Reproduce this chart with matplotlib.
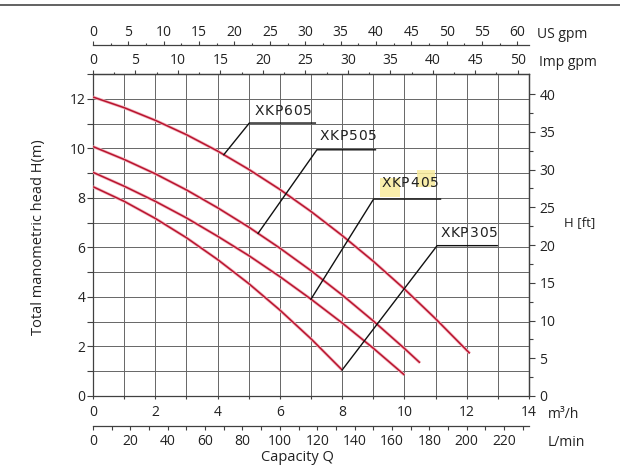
import matplotlib
matplotlib.use('Agg')
import matplotlib.pyplot as plt
import numpy as np
from matplotlib.lines import Line2D
from matplotlib.patches import Rectangle
from matplotlib.ticker import MultipleLocator, FixedLocator

plt.rcParams['font.family'] = ['Open Sans', 'DejaVu Sans']

# ── Data: pump curves, Q in m3/h, H in m ──────────
q605 = [0, 1, 2, 3, 4, 5, 6, 7, 8, 9, 10, 11, 12.1]
h605 = [12.07, 11.64, 11.13, 10.55, 9.89, 9.15, 8.34, 7.45, 6.48, 5.44, 4.32, 3.12, 1.72]

q505 = [0, 1, 2, 3, 4, 5, 6, 7, 8, 9, 10, 10.5]
h505 = [10.07, 9.55, 8.97, 8.32, 7.60, 6.82, 5.97, 5.06, 4.08, 3.03, 1.92, 1.34]

q405 = [0, 1, 2, 3, 4, 5, 6, 7, 8, 9, 10]
h405 = [9.03, 8.47, 7.86, 7.19, 6.45, 5.67, 4.82, 3.91, 2.95, 1.93, 0.85]

q305 = [0, 1, 2, 3, 4, 5, 6, 7, 8]
h305 = [8.45, 7.86, 7.17, 6.39, 5.51, 4.54, 3.47, 2.31, 1.05]

models = ['XKP605', 'XKP505', 'XKP405', 'XKP305']

# unit conversions
US_GPM = 0.227125   # m3/h
IMP_GPM = 0.272765  # m3/h
LPM = 0.06          # m3/h
FT = 0.3048         # m

RED = '#b8152f'
GRID = '#666666'
SPINE = '#404040'
TXT = '#222222'

fig = plt.figure(figsize=(6.2, 4.75), dpi=100)
ax = fig.add_axes([0.15, 0.16632, 0.7032, 0.6779])

# ── Curves ────────────────────────────────────────
for q, h in [(q605, h605), (q505, h505), (q405, h405), (q305, h305)]:
    ax.plot(q, h, color='#f4b3bd', lw=2.2, solid_capstyle='butt', zorder=3,
            solid_joinstyle='round')
    ax.plot(q, h, color=RED, lw=1.1, solid_capstyle='butt', zorder=4,
            solid_joinstyle='round')

# ── Axes / grid ───────────────────────────────────
ax.set_xlim(0, 14)
ax.set_ylim(0, 13)
ax.xaxis.set_major_locator(MultipleLocator(2))
ax.xaxis.set_minor_locator(MultipleLocator(1))
ax.yaxis.set_major_locator(MultipleLocator(2))
ax.yaxis.set_minor_locator(MultipleLocator(1))
ax.grid(which='both', color=GRID, lw=0.7)
ax.set_axisbelow(True)
for s in ax.spines.values():
    s.set_color(SPINE)
    s.set_linewidth(0.9)
ax.tick_params(axis='x', which='both', direction='out', length=2.5, width=0.8,
               color=SPINE, labelsize=10, labelcolor=TXT, pad=4)
ax.tick_params(axis='y', which='both', direction='out', length=4, width=0.8,
               color=SPINE, labelsize=10, labelcolor=TXT, pad=1.5)

# Imp gpm on top spine
imp = ax.secondary_xaxis('top', functions=(lambda x: x / IMP_GPM, lambda x: x * IMP_GPM))
imp.xaxis.set_major_locator(FixedLocator(np.arange(0, 51, 5)))
imp.xaxis.set_minor_locator(FixedLocator(np.arange(2.5, 51, 5)))
imp.tick_params(which='major', direction='out', length=3, width=0.8, color=SPINE,
                labelsize=10, labelcolor=TXT, pad=1)
imp.tick_params(which='minor', direction='out', length=1.8, width=0.8, color=SPINE)
imp.spines['top'].set_color(SPINE)
imp.spines['top'].set_linewidth(0.9)

# US gpm on an offset line above
usg = ax.secondary_xaxis(1.090, functions=(lambda x: x / US_GPM, lambda x: x * US_GPM))
usg.xaxis.set_major_locator(FixedLocator(np.arange(0, 61, 5)))
usg.xaxis.set_minor_locator(FixedLocator(np.arange(2.5, 61, 5)))
usg.tick_params(which='major', direction='out', length=3, width=0.8, color=SPINE,
                labelsize=10, labelcolor=TXT, pad=0.5)
usg.tick_params(which='minor', direction='out', length=1.8, width=0.8, color=SPINE)
usg.spines['top'].set_color(SPINE)
usg.spines['top'].set_linewidth(0.9)

# L/min on an offset line below
lpm = ax.secondary_xaxis(-0.0922, functions=(lambda x: x / LPM, lambda x: x * LPM))
lpm.xaxis.set_major_locator(FixedLocator(np.arange(0, 221, 20)))
lpm.xaxis.set_minor_locator(FixedLocator(np.arange(10, 231, 20)))
lpm.tick_params(which='both', direction='out', length=3, width=0.8, color=SPINE,
                labelsize=10, labelcolor=TXT, pad=3)
lpm.spines['bottom'].set_color(SPINE)
lpm.spines['bottom'].set_linewidth(0.9)

# feet on right
hft = ax.secondary_yaxis('right', functions=(lambda y: y / FT, lambda y: y * FT))
hft.yaxis.set_major_locator(FixedLocator(np.arange(0, 41, 5)))
hft.yaxis.set_minor_locator(FixedLocator(np.arange(2.5, 41, 5)))
hft.tick_params(which='major', direction='out', length=4.5, width=0.8, color=SPINE,
                labelsize=10, labelcolor=TXT, pad=3)
hft.tick_params(which='minor', direction='out', length=3, width=0.8, color=SPINE)
hft.spines['right'].set_color(SPINE)
hft.spines['right'].set_linewidth(0.9)

# ── Highlight blobs behind XKP405 ─────────────────
ax.add_patch(Rectangle((9.22, 8.04), 0.64, 0.77, facecolor='#f9ec9c', edgecolor='none',
                       alpha=0.85, zorder=2))
ax.add_patch(Rectangle((10.40, 8.44), 0.58, 0.69, facecolor='#f9ec9c', edgecolor='none',
                       alpha=0.85, zorder=2))

# ── Model labels with leader lines ────────────────
# (text x, text y, underline x0, x1, underline y, curve point x, curve)
labels = [
    (5.20, 11.23, 5.02, 7.14, 11.02, 4.2, q605, h605),
    (7.29, 10.22, 7.19, 9.07, 9.94, 5.3, q505, h505),
    (9.27, 8.32, 9.01, 11.16, 7.95, 7.0, q405, h405),
    (11.17, 6.30, 11.05, 12.98, 6.07, 8.0, q305, h305),
]
for name, (tx, ty, ux0, ux1, uy, cx, q, h) in zip(models, labels):
    cy = np.interp(cx, q, h)
    ax.plot([ux1, ux0, cx], [uy, uy, cy], color='#111111', lw=1.0, zorder=5,
            solid_joinstyle='miter')
    for i, ch in enumerate(name):
        ax.annotate(ch, (tx, ty), xytext=(i * 9.6 * 0.72, 0), textcoords='offset points',
                    ha='left', va='bottom', fontsize=10, color=TXT,
                    family=['DejaVu Sans'], zorder=6)

# ── Axis titles ───────────────────────────────────
fig.text(0.0613, 0.5017, 'Total manometric head H(m)', rotation=90, ha='center',
         va='center', fontsize=10.5, color=TXT)
fig.text(0.479, 0.0358, 'Capacity Q', ha='center', va='center', fontsize=10.5, color=TXT)
fig.text(0.935, 0.5305, 'H [ft]', ha='center', va='center', fontsize=9.5, color=TXT)
fig.text(0.866, 0.928, 'US gpm', ha='left', va='center', fontsize=10, color=TXT)
fig.text(0.869, 0.869, 'Imp gpm', ha='left', va='center', fontsize=10, color=TXT)
fig.text(0.884, 0.128, 'm³/h', ha='left', va='center', fontsize=10, color=TXT)
fig.text(0.884, 0.069, 'L/min', ha='left', va='center', fontsize=10, color=TXT)

# rule across the top of the page
fig.add_artist(Line2D([0, 1], [0.9895, 0.9895], transform=fig.transFigure,
                      color='#555555', lw=1.3))

fig.savefig('out.png', dpi=100, facecolor='white')
